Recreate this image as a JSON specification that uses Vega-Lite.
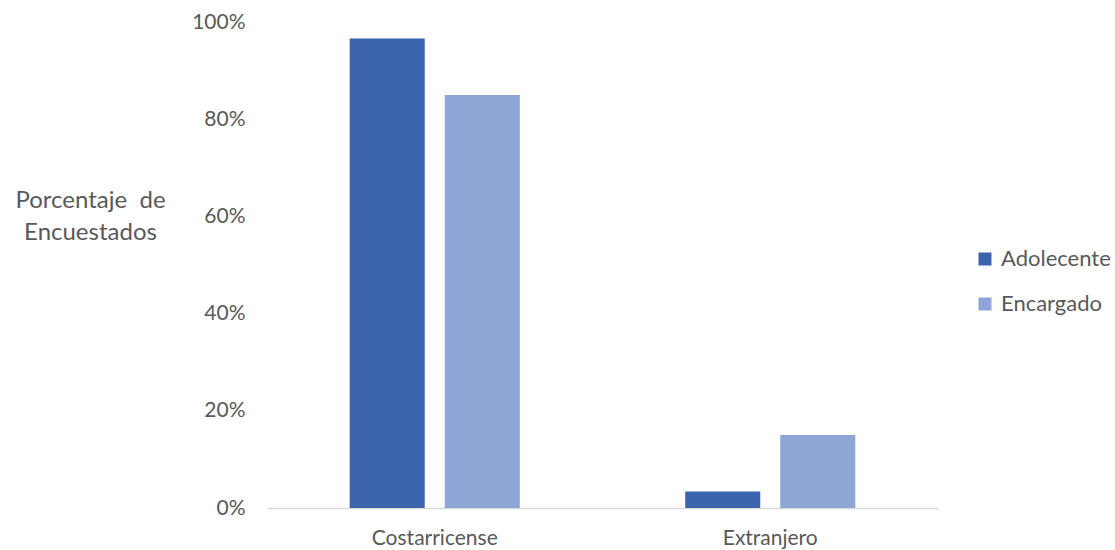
{
  "$schema": "https://vega.github.io/schema/vega-lite/v6.json",
  "autosize": {"type": "none"},
  "width": 671,
  "height": 486,
  "padding": {"left": 267, "top": 22, "right": 177, "bottom": 42},
  "background": "white",
  "data": {
    "values": [
      {"origen": "Costarricense", "grupo": "Adolecente", "pct": 0.966},
      {"origen": "Costarricense", "grupo": "Encargado", "pct": 0.85},
      {"origen": "Extranjero", "grupo": "Adolecente", "pct": 0.034},
      {"origen": "Extranjero", "grupo": "Encargado", "pct": 0.15}
    ]
  },
  "config": {
    "view": {"stroke": null},
    "font": "Lato",
    "axis": {"labelFont": "Lato", "titleFont": "Lato", "labelColor": "#595959", "titleColor": "#595959"},
    "legend": {"labelFont": "Lato", "labelColor": "#595959"}
  },
  "mark": {"type": "bar"},
  "encoding": {
    "x": {
      "field": "origen",
      "type": "nominal",
      "scale": {"paddingInner": 0.493, "paddingOuter": 0.2465},
      "axis": {
        "title": null,
        "labelAngle": 0,
        "labelFontSize": 21,
        "labelPadding": 19,
        "ticks": false,
        "domainColor": "#d9d9d9",
        "domainWidth": 1.5,
        "grid": false
      }
    },
    "xOffset": {
      "field": "grupo",
      "type": "nominal",
      "scale": {"paddingInner": 0.2105, "paddingOuter": 0}
    },
    "y": {
      "field": "pct",
      "type": "quantitative",
      "scale": {"domain": [0, 1], "nice": false},
      "axis": {
        "values": [0, 0.2, 0.4, 0.6, 0.8, 1],
        "format": ".0%",
        "labelFontSize": 21,
        "labelPadding": 22,
        "ticks": false,
        "domain": false,
        "grid": false,
        "title": ["Porcentaje\u00a0\u00a0de", "Encuestados"],
        "titleAngle": 0,
        "titleFontSize": 24,
        "titleFontWeight": "normal",
        "titleAlign": "center",
        "titleBaseline": "middle",
        "titleLineHeight": 32,
        "titleX": -177,
        "titleY": 178
      }
    },
    "color": {
      "field": "grupo",
      "type": "nominal",
      "scale": {"domain": ["Adolecente", "Encargado"], "range": ["#3B64AD", "#8FA5D5"]},
      "legend": {
        "title": null,
        "orient": "none",
        "legendX": 707,
        "legendY": 226,
        "symbolType": "square",
        "symbolSize": 169,
        "symbolStrokeWidth": 0,
        "labelFontSize": 22,
        "labelOffset": 5,
        "rowPadding": 23
      }
    }
  }
}
